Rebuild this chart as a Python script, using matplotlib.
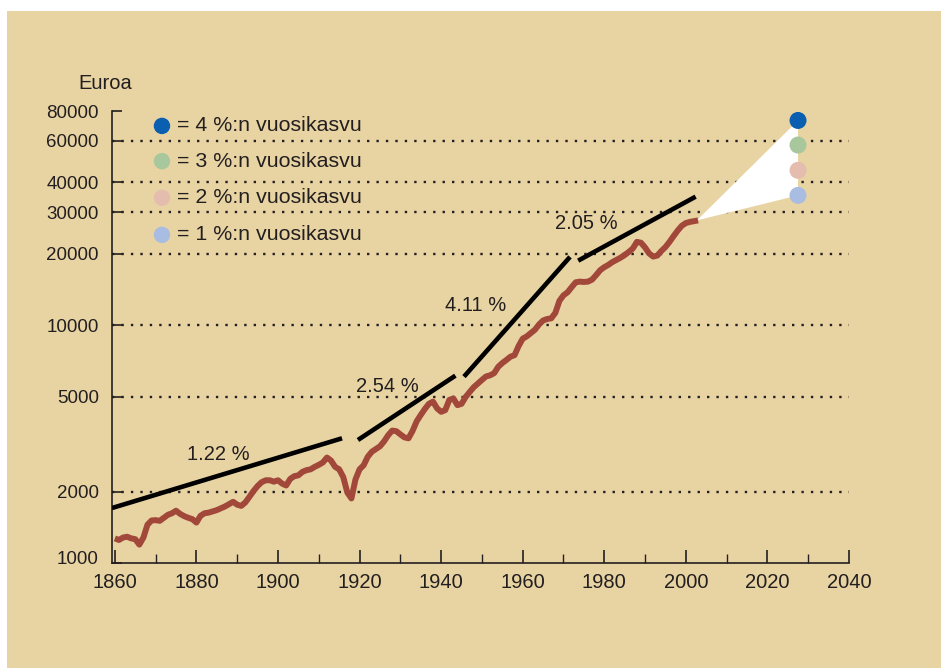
import matplotlib
matplotlib.use("Agg")
import matplotlib.pyplot as plt
import matplotlib.transforms as mtransforms
from matplotlib.patches import Rectangle, Polygon
from matplotlib.ticker import FixedLocator, MultipleLocator, NullFormatter

plt.rcParams['font.family'] = ['Liberation Sans', 'DejaVu Sans']

# ---- data ----
years = list(range(1860, 2004))
gdp = [1270, 1250, 1280, 1290, 1270, 1260, 1195, 1280, 1450, 1510,
       1515, 1505, 1550, 1595, 1620, 1660, 1610, 1575, 1550, 1530,
       1480, 1580, 1620, 1630, 1650, 1670, 1700, 1730, 1770, 1810,
       1760, 1740, 1800, 1900, 2010, 2110, 2190, 2230, 2230, 2200,
       2230, 2160, 2120, 2260, 2320, 2340, 2420, 2460, 2480, 2540,
       2590, 2650, 2780, 2700, 2540, 2480, 2300, 1980, 1870, 2250,
       2480, 2580, 2800, 2940, 3020, 3100, 3250, 3450, 3610, 3590,
       3480, 3380, 3350, 3600, 3950, 4200, 4450, 4680, 4780, 4480,
       4330, 4400, 4860, 4930, 4620, 4680, 5000, 5250, 5500, 5700,
       5900, 6100, 6170, 6300, 6700, 6950, 7160, 7390, 7500, 8200,
       8800, 9000, 9300, 9600, 10100, 10500, 10650, 10720, 11300, 12700,
       13400, 13800, 14500, 15200, 15300, 15250, 15300, 15600, 16300, 17100,
       17600, 18000, 18500, 18900, 19300, 19800, 20400, 21100, 22500, 22300,
       21300, 20100, 19500, 19700, 20600, 21400, 22500, 23800, 25100, 26300,
       27000, 27300, 27500, 27700]

# trend segments: (start year, start value, end year, end value)
trend_start_years = [1859.3, 1919.6, 1945.6, 1973.6]
trend_start_values = [1704, 3296, 6090, 18750]
trend_end_years = [1915.7, 1943.5, 1971.6, 2002.4]
trend_end_values = [3350, 6150, 19450, 34870]
trend_labels = ["1.22 %", "2.54 %", "4.11 %", "2.05 %"]
trend_label_years = [1885.3, 1926.8, 1948.5, 1975.7]
trend_label_values = [2850, 5560, 12080, 26880]

# projection
proj_year = 2027.5
proj_values = [73000, 57500, 45000, 35300]
proj_labels = ["= 4 %:n vuosikasvu", "= 3 %:n vuosikasvu",
               "= 2 %:n vuosikasvu", "= 1 %:n vuosikasvu"]
proj_colors = ["#0a5fb0", "#a9c79d", "#e4bdae", "#a9bce2"]

ytick_values = [1000, 2000, 5000, 10000, 20000, 30000, 40000, 60000, 80000]
ytick_labels = ["1000", "2000", "5000", "10000", "20000", "30000", "40000", "60000", "80000"]
grid_values = [2000, 5000, 10000, 20000, 30000, 40000, 60000]
xtick_values = [1860, 1880, 1900, 1920, 1940, 1960, 1980, 2000, 2020, 2040]

BG = "#e8d4a3"
INK = "#231f20"
RED = "#a2483a"

fig = plt.figure(figsize=(9.41, 6.68), dpi=100, facecolor="white")
fig.patches.append(Rectangle((7 / 941, 0), 1, (668 - 11) / 668,
                             transform=fig.transFigure, facecolor=BG,
                             edgecolor="none", zorder=-10))
ax = fig.add_axes([112 / 941, (668 - 563) / 668, (849 - 112) / 941, (563 - 111) / 668])
ax.set_facecolor("none")
ax.set_yscale("log")
ax.set_xlim(1859.3, 2040)
ax.set_ylim(1000, 80000)

# grid lines
for g in grid_values:
    ax.axhline(g, color=INK, linestyle=(0, (1, 3)), linewidth=1.7, zorder=1)

# fan
apex = (years[-1] - 0.3, gdp[-1])
fan = Polygon([apex, (proj_year, proj_values[0]), (proj_year, proj_values[-1])],
              closed=True, facecolor="white", edgecolor="none", zorder=2)
ax.add_patch(fan)

# trend lines
for xs, ys, xe, ye in zip(trend_start_years, trend_start_values, trend_end_years, trend_end_values):
    ax.plot([xs, xe], [ys, ye], color="black", linewidth=3.3, solid_capstyle="butt", zorder=3)
for lab, lx, ly in zip(trend_labels, trend_label_years, trend_label_values):
    ax.text(lx, ly, lab, fontsize=14.5, color=INK, ha="center", va="center", zorder=5)

# GDP series
ax.plot(years, gdp, color=RED, linewidth=4.3, solid_joinstyle="round",
        solid_capstyle="butt", zorder=4)

# projection dots
ax.scatter([proj_year] * len(proj_values), proj_values, s=150, c=proj_colors,
           edgecolors="none", zorder=6, clip_on=False)

# legend (manual)
leg_y = [0.967, 0.889, 0.808, 0.726]
for yy, col, lab in zip(leg_y, proj_colors, proj_labels):
    ax.scatter([0.0678], [yy], s=140, c=[col], edgecolors="none",
               transform=ax.transAxes, zorder=6, clip_on=False)
    ax.text(0.088, yy, lab, transform=ax.transAxes, fontsize=15.4, color=INK,
            ha="left", va="center")

ax.text(-0.046, 1.06, "Euroa", transform=ax.transAxes, fontsize=14.5,
        color=INK, ha="left", va="center")

# axes styling
for s in ["top", "right"]:
    ax.spines[s].set_visible(False)
for s in ["left", "bottom"]:
    ax.spines[s].set_color(INK)
    ax.spines[s].set_linewidth(1.2)

ax.yaxis.set_major_locator(FixedLocator(ytick_values))
ax.set_yticklabels(ytick_labels)
ax.yaxis.set_minor_locator(FixedLocator([]))
ax.yaxis.set_minor_formatter(NullFormatter())
ax.tick_params(axis="y", which="major", direction="in", length=7.2, width=1.2,
               color=INK, labelsize=13.5, labelcolor=INK, pad=9.5)

ax.xaxis.set_major_locator(FixedLocator(xtick_values))
ax.xaxis.set_minor_locator(MultipleLocator(10))
ax.tick_params(axis="x", which="major", direction="in", length=9.4, width=1.2,
               color=INK, labelsize=14.5, labelcolor=INK, pad=7)
ax.tick_params(axis="x", which="minor", direction="in", length=6.2, width=1.0,
               color=INK)

# lift the bottom y label a little, as in the original
fig.canvas.draw()
lbl0 = ax.get_yticklabels()[0]
lbl0.set_transform(lbl0.get_transform() +
                   mtransforms.ScaledTranslation(0, 6 / 100, fig.dpi_scale_trans))

fig.savefig("out.png", dpi=100, facecolor=fig.get_facecolor())
